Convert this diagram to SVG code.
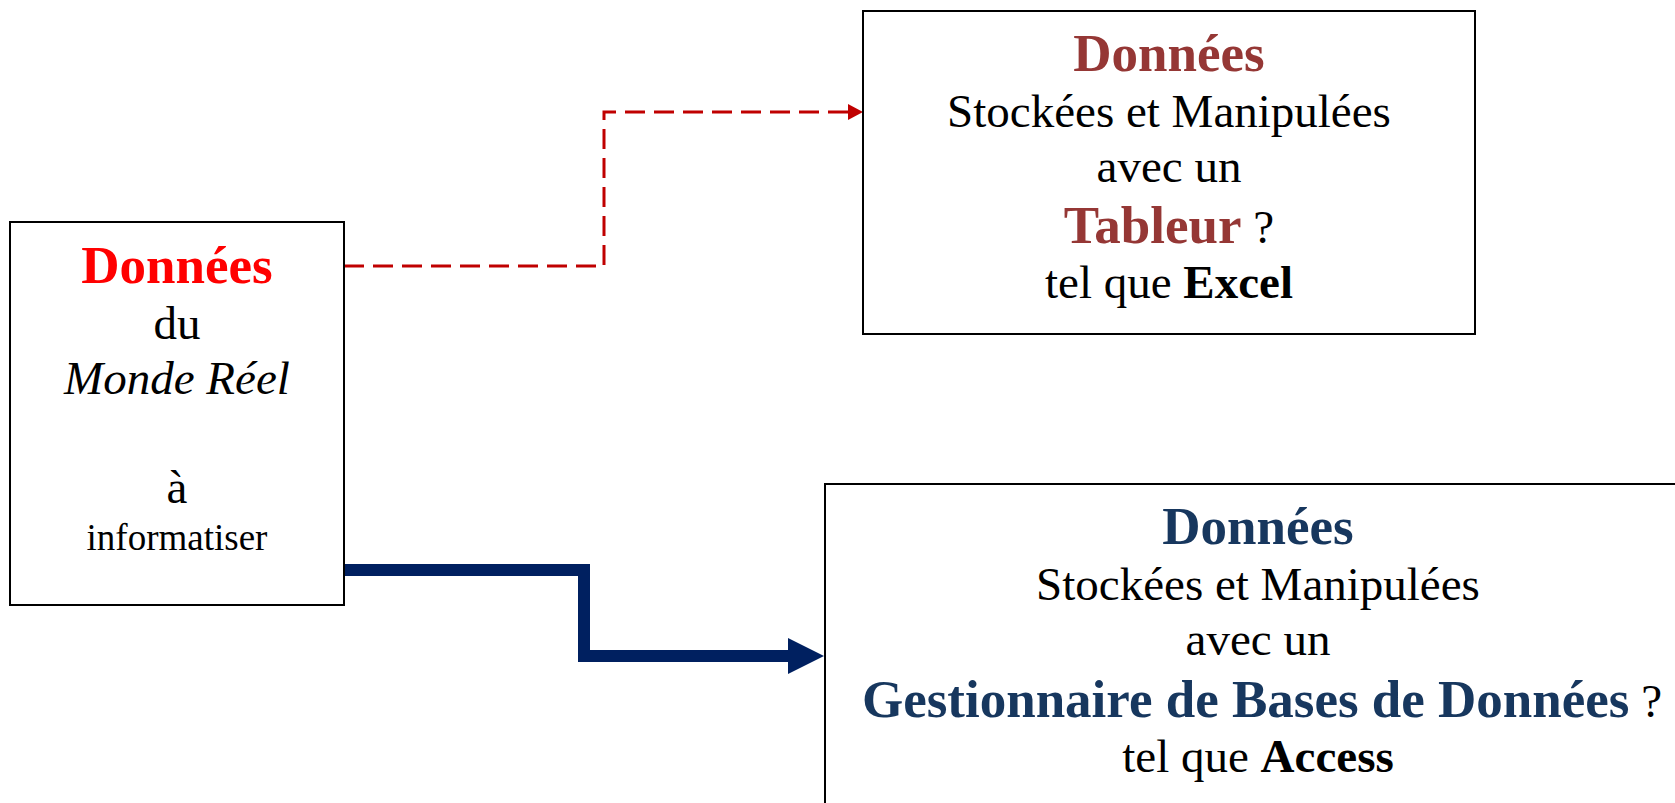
<svg xmlns="http://www.w3.org/2000/svg" width="1675" height="803" viewBox="0 0 1675 803">
<style>
.box{fill:#fff;stroke:#000;stroke-width:2}
text{font-family:"Liberation Serif","Times New Roman",serif;text-anchor:middle;fill:#000}
.t{font-size:47px}
.b{font-weight:bold;font-size:53px}
.red{fill:#ff0000}
.brn{fill:#953735}
.blu{fill:#17375e}
</style>
<defs>
<marker id="ar" markerWidth="15" markerHeight="16" refX="15" refY="8" orient="auto" markerUnits="userSpaceOnUse">
<polygon points="0,0 15,8 0,16" fill="#c00000"/>
</marker>
</defs>
<rect width="1675" height="803" fill="#fff"/>
<g id="connectors">
<path d="M344,266 H604 V112 H849" fill="none" stroke="#c00000" stroke-width="3" stroke-dasharray="20,9"/>
<polygon points="848,104 863,112 848,120" fill="#c00000"/>
<path d="M344,570 H584 V656 H790" fill="none" stroke="#002060" stroke-width="12"/>
<polygon points="788,638 824,656 788,674" fill="#002060"/>
</g>
<g id="node-reel">
<rect class="box" x="10" y="222" width="334" height="383"/>
<text x="177" y="283" class="b red">Données</text>
<text x="177" y="339" class="t">du</text>
<text x="177" y="394" class="t" font-style="italic">Monde Réel</text>
<text x="177" y="503" class="t">à</text>
<text x="177" y="550" font-size="37">informatiser</text>
</g>
<g id="node-tableur">
<rect class="box" x="863" y="11" width="612" height="323"/>
<text x="1169" y="71" class="b brn">Données</text>
<text x="1169" y="127" class="t">Stockées et Manipulées</text>
<text x="1169" y="182" class="t">avec un</text>
<text x="1169" y="243" class="t"><tspan class="b brn">Tableur</tspan> ?</text>
<text x="1169" y="298" class="t">tel que <tspan font-weight="bold">Excel</tspan></text>
</g>
<g id="node-sgbd">
<rect class="box" x="825" y="484" width="900" height="400"/>
<text x="1258" y="544" class="b blu">Données</text>
<text x="1258" y="600" class="t">Stockées et Manipulées</text>
<text x="1258" y="655" class="t">avec un</text>
<text x="1262" y="717" class="t"><tspan class="b blu">Gestionnaire de Bases de Données</tspan> ?</text>
<text x="1258" y="772" class="t">tel que <tspan font-weight="bold">Access</tspan></text>
</g>
</svg>
